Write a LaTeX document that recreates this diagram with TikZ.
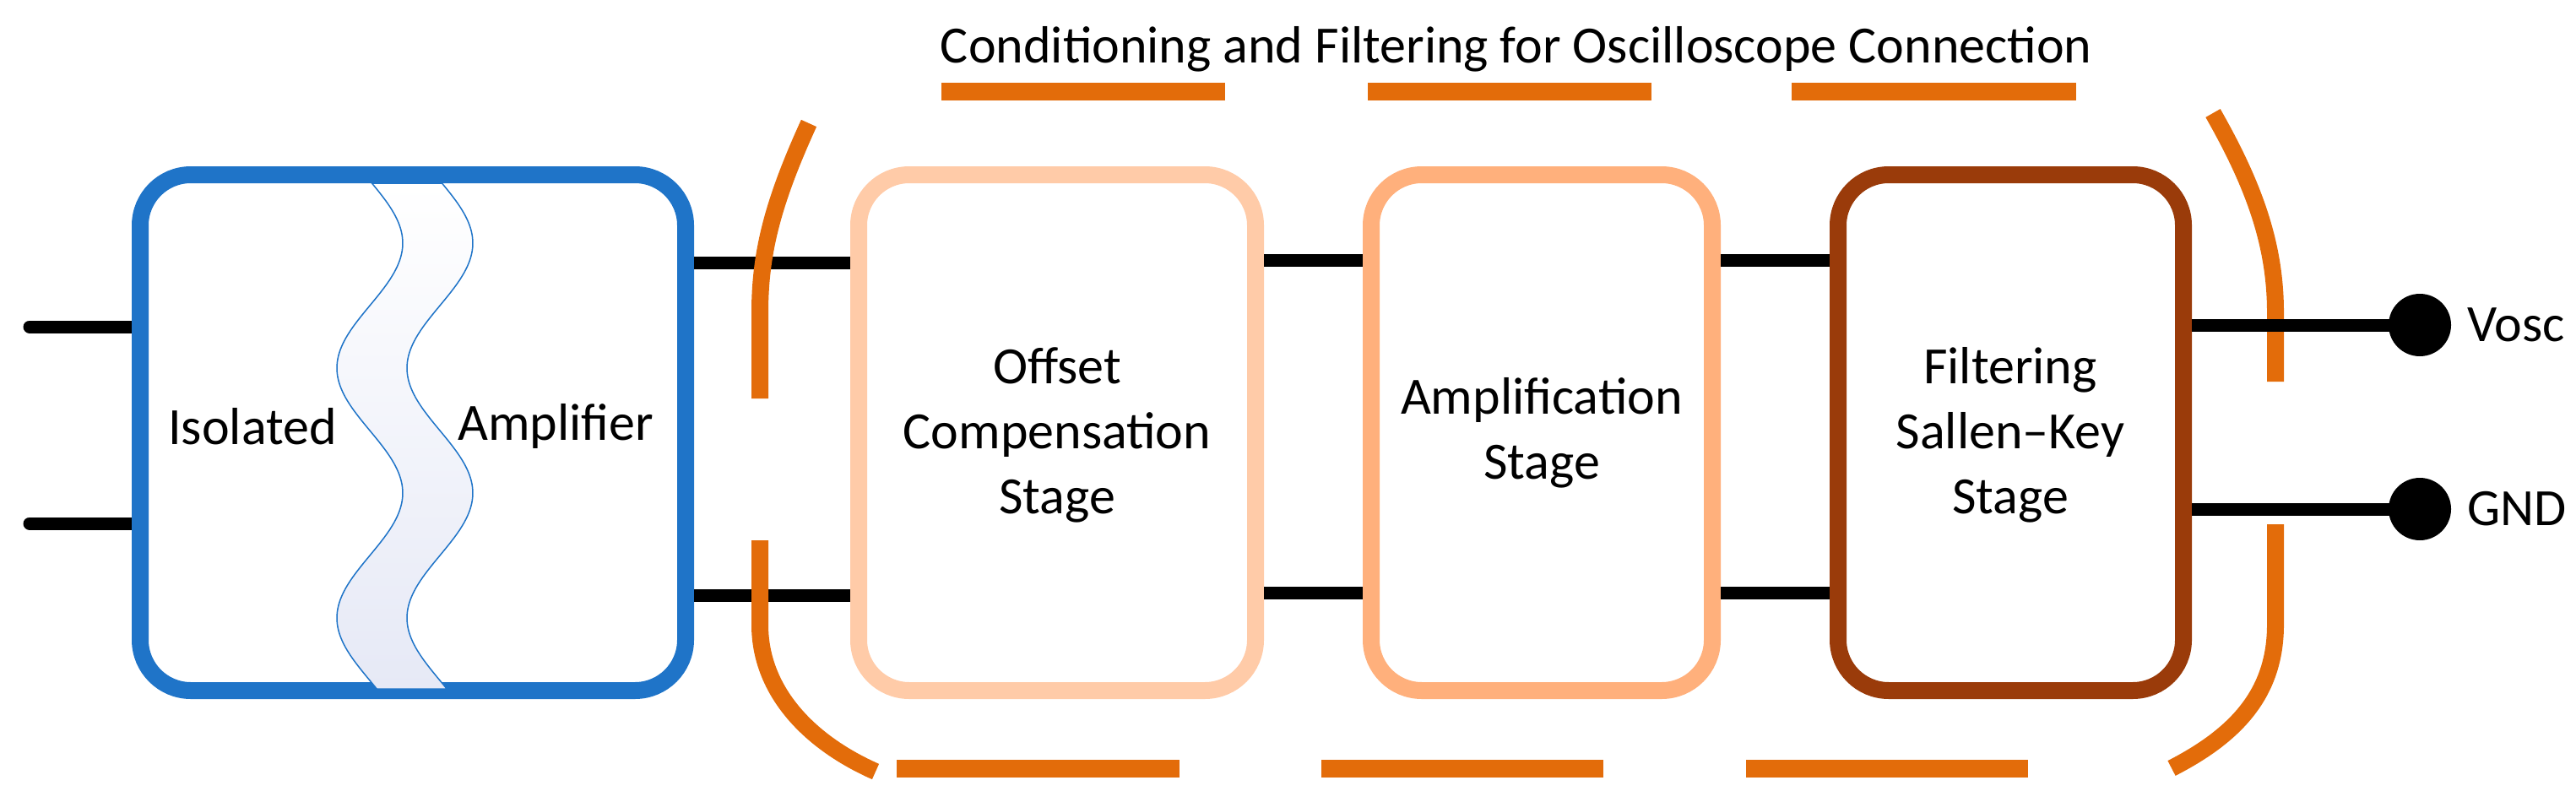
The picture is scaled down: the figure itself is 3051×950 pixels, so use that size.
\documentclass[tikz,border=0pt]{standalone}
\usepackage{fontspec}
\setmainfont{Carlito}
\definecolor{bl}{HTML}{1F74C8}
\definecolor{or}{HTML}{E36C0A}
\definecolor{p1}{HTML}{FFCBA8}
\definecolor{p2}{HTML}{FFB07C}
\definecolor{p3}{HTML}{9A3B0A}
\definecolor{lav}{HTML}{E6E9F6}
\begin{document}
\begin{tikzpicture}[x=1pt,y=-1pt,
 box/.style={draw=#1,line width=20pt,rounded corners=60pt,fill=white},
 wire/.style={line width=15pt,black},
 brk/.style={draw=or,line width=20pt},
 odash/.style={draw=or,line width=21pt},
 txt/.style={font=\fontsize{62}{77}\selectfont,align=center,inner sep=0pt}]
\useasboundingbox (0,0) rectangle (3051,950);
% left wires
\draw[wire,line cap=round] (35,387) -- (166,387);
\draw[wire,line cap=round] (35,620) -- (166,620);
\draw[box=bl] (166,207) rectangle (812,818);
\path[draw=bl,line width=1.5pt,top color=white,bottom color=lav]
 plot[domain=217:816,samples=80,smooth,variable=\t] ({438+39*cos(1.2162*(\t-288))},\t)
 -- plot[domain=816:217,samples=80,smooth,variable=\t] ({521+39*cos(1.2162*(\t-288))},\t) -- cycle;
\node[txt] (iso) at (299,505) {Isolated};
\node[txt] (amp) at (658,505) {Amplifier};
% stages
\draw[box=p1] (1017,207) rectangle (1487,818);
\draw[box=p2] (1624,207) rectangle (2028,818);
\draw[box=p3] (2177,207) rectangle (2586,818);
\node[txt] (t1) at (1252,515) {Offset\\Compensation\\Stage};
\node[txt] (t2) at (1826,513) {Amplification\\Stage};
\node[txt] (t3) at (2381,515) {Filtering\\Sallen–Key\\Stage};
% connectors
\draw[wire] (822,311) -- (1007,311);
\draw[wire] (822,705) -- (1007,705);
\draw[wire] (1497,308) -- (1614,308);
\draw[wire] (1497,702) -- (1614,702);
\draw[wire] (2038,308) -- (2167,308);
\draw[wire] (2038,702) -- (2167,702);
% brackets
\draw[brk] (958,146) .. controls (915,240) and (900,300) .. (900,370) -- (900,472);
\draw[brk] (900,640) -- (900,740) .. controls (900,820) and (960,880) .. (1037,914);
\draw[brk] (2621,134) .. controls (2670,220) and (2695,290) .. (2695,370) -- (2695,452);
\draw[brk] (2695,621) -- (2695,740) .. controls (2695,820) and (2650,870) .. (2572,910);
% outputs
\node[circle,fill=black,minimum size=74pt,inner sep=0pt] (d1) at (2866,385) {};
\node[circle,fill=black,minimum size=74pt,inner sep=0pt] (d2) at (2866,603) {};
\draw[wire] (2596,385) -- (d1.center);
\draw[wire] (2596,603) -- (d2.center);
\node[txt,anchor=west] (vo) at (2922,385) {Vosc};
\node[txt,anchor=west] (gn) at (2922,603) {GND};
% dashes
\foreach \a/\b in {1115/1451,1620/1956,2122/2459}{\draw[odash] (\a,108) -- (\b,108);}
\foreach \a/\b in {1062/1397,1565/1899,2068/2402}{\draw[odash] (\a,910) -- (\b,910);}
\node[txt] (title) at (1796,58) {Conditioning and Filtering for Oscilloscope Connection};
\end{tikzpicture}
\end{document}
